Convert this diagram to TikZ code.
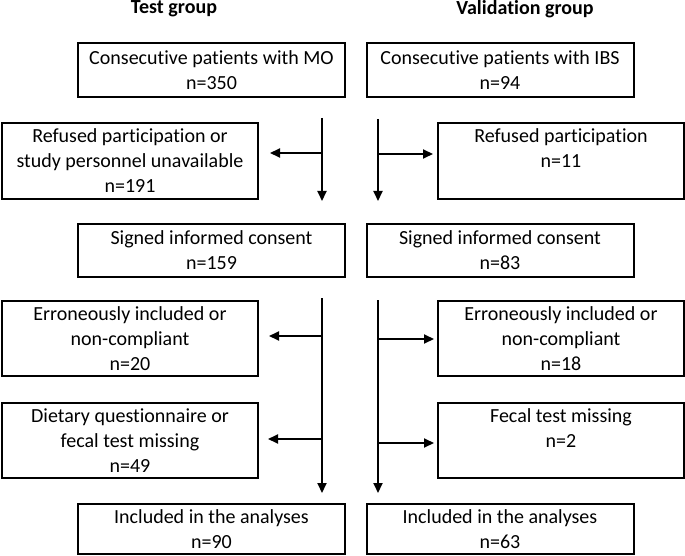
\documentclass[tikz,border=0pt]{standalone}
\usepackage{fontspec}
\setmainfont[Ligatures={NoCommon}]{Carlito}
\usepackage{tikz}
\usetikzlibrary{positioning,arrows.meta,calc}

\tikzset{
  stagebox/.style={draw=black, line width=2pt, align=center, inner sep=0pt,
        font=\fontsize{20}{25}\selectfont},
  mainbox/.style={stagebox, minimum width=267pt, minimum height=53pt},
  sidebox/.style={stagebox, minimum width=256pt, minimum height=75pt},
  grouphead/.style={font=\fontsize{20}{25}\selectfont\bfseries},
  flow/.style={line width=2pt, -{Triangle[length=10pt,width=9pt]}}
}

\begin{document}
\begin{tikzpicture}[x=1pt, y=-1pt]
  \useasboundingbox (0,0) rectangle (685,556);

  % group headings
  \node[grouphead] (testhd) at (174,9) {Test group};
  \node[grouphead] (valhd) at (525,9) {Validation group};

  % test group
  \node[mainbox, minimum height=54pt] (mo) at (211.5,70) {Consecutive patients with MO\\ n=350};
  \node[sidebox, minimum height=76pt] (refl) at (130,161)
    {Refused participation or\\ study personnel unavailable\\ n=191};
  \node[mainbox] (consl) at (211.5,250.5) {Signed informed consent\\ n=159};
  \node[sidebox] (errl) at (130,338.5)
    {Erroneously included or\\ non-compliant\\ n=20};
  \node[sidebox] (dietl) at (130,440.5)
    {Dietary questionnaire or\\ fecal test missing\\ n=49};
  \node[mainbox, minimum height=50pt] (incl) at (211.5,529) {Included in the analyses\\ n=90};

  % validation group
  \node[mainbox, minimum height=54pt] (ibs) at (500,70) {Consecutive patients with IBS\\ n=94};
  \node[sidebox, minimum width=246pt, minimum height=76pt] (refr) at (561,161)
    {Refused participation\\ n=11\\ \mbox{}};
  \node[mainbox] (consr) at (500,250.5) {Signed informed consent\\ n=83};
  \node[sidebox, minimum width=246pt] (errr) at (561,338.5)
    {Erroneously included or\\ non-compliant\\ n=18};
  \node[sidebox, minimum width=246pt] (fecr) at (561,440.5)
    {Fecal test missing\\ n=2\\ \mbox{}};
  \node[mainbox, minimum height=50pt] (incr) at (500,529) {Included in the analyses\\ n=63};

  % trunk lines
  \coordinate (ltrunk) at (322,0);
  \coordinate (rtrunk) at (378,0);

  \draw[flow] ([yshift=-20pt]ltrunk |- mo.south) -- ([yshift=22pt]ltrunk |- consl.north);
  \draw[flow] ([yshift=-21pt]rtrunk |- ibs.south) -- ([yshift=22pt]rtrunk |- consr.north);
  \draw[flow] ([yshift=-20pt]ltrunk |- consl.south) -- ([yshift=10pt]ltrunk |- incl.north);
  \draw[flow] ([yshift=-22pt]rtrunk |- consr.south) -- ([yshift=10pt]rtrunk |- incr.north);

  % exclusions
  \draw[flow, shorten >=11pt] ([yshift=8pt]ltrunk |- refl.east) -- ([yshift=8pt]refl.east);
  \draw[flow, shorten >=4pt] ([yshift=7pt]rtrunk |- refr.west) -- ([yshift=7pt]refr.west);
  \draw[flow, shorten >=10pt] ([yshift=2.5pt]ltrunk |- errl.east) -- ([yshift=2.5pt]errl.east);
  \draw[flow, shorten >=3pt] ([yshift=-0.5pt]rtrunk |- errr.west) -- ([yshift=-0.5pt]errr.west);
  \draw[flow, shorten >=9pt] ([yshift=1.5pt]ltrunk |- dietl.east) -- ([yshift=1.5pt]dietl.east);
  \draw[flow, shorten >=3pt] ([yshift=-2.5pt]rtrunk |- fecr.west) -- ([yshift=-2.5pt]fecr.west);
\end{tikzpicture}
\end{document}
